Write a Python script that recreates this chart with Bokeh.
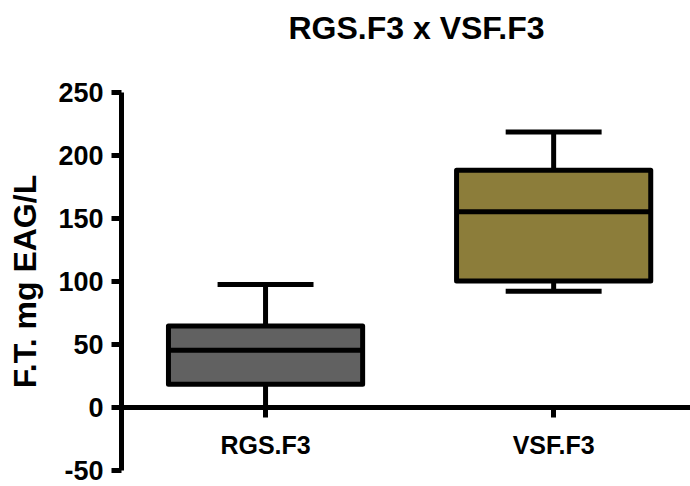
from bokeh.plotting import figure
from bokeh.models import Range1d, FixedTicker, ColumnDataSource, Title
from bokeh.embed import file_html
from bokeh.resources import INLINE

title_text = "RGS.F3 x VSF.F3"
y_label = "F.T. mg EAG/L"
categories = ["RGS.F3", "VSF.F3"]
lower_whisker = [0.0, 92.2]
q1 = [18.5, 100.4]
median = [45.5, 155.4]
q3 = [64.7, 188.3]
upper_whisker = [97.6, 218.7]
fill_colors = ["#616161", "#8c7d3a"]
y_ticks = [-50, 0, 50, 100, 150, 200, 250]

box_width = 0.674
cap_width = 0.333

xs = [i + 0.5 for i in range(len(categories))]
src = ColumnDataSource(dict(
    x=xs,
    left=[x - box_width / 2 for x in xs],
    right=[x + box_width / 2 for x in xs],
    cl=[x - cap_width / 2 for x in xs],
    cr=[x + cap_width / 2 for x in xs],
    lo=lower_whisker, q1=q1, med=median, q3=q3, hi=upper_whisker,
    color=fill_colors,
))

FONT = "Liberation Sans"
W, H = 690, 486
MB_LEFT, MB_TOP, MB_BOTTOM = 121, 92, 16

p = figure(width=W, height=H, output_backend="svg", toolbar_location=None,
           x_range=Range1d(0, 1.975), y_range=Range1d(-50, 250),
           min_border_left=MB_LEFT, min_border_right=0, min_border_top=MB_TOP,
           min_border_bottom=MB_BOTTOM, title=title_text)

p.grid.visible = False
p.outline_line_color = None
p.background_fill_color = "white"
p.border_fill_color = "white"

# whiskers
p.segment(x0="x", y0="q3", x1="x", y1="hi", source=src, line_color="black", line_width=5)
p.segment(x0="x", y0="lo", x1="x", y1="q1", source=src, line_color="black", line_width=5)
p.segment(x0="cl", y0="hi", x1="cr", y1="hi", source=src, line_color="black", line_width=5)
p.segment(x0="cl", y0="lo", x1="cr", y1="lo", source=src, line_color="black", line_width=5)
# boxes
p.quad(left="left", right="right", bottom="q1", top="q3", source=src,
       fill_color="color", line_color="black", line_width=5, line_join="round")
p.segment(x0="left", y0="med", x1="right", y1="med", source=src, line_color="black", line_width=5)

# spacer between frame and title (pushes the title to the top of the canvas)
p.add_layout(Title(text=" ", text_font_size="1px", standoff=44), "above")

# title
p.title.text_font = FONT
p.title.text_font_style = "bold"
p.title.text_font_size = "32px"
p.title.text_color = "black"
p.title.align = "left"
p.title.offset = 167
p.title.standoff = 0

# y axis
ya = p.yaxis[0]
ya.ticker = FixedTicker(ticks=y_ticks)
ya.major_label_overrides = {t: str(t) for t in y_ticks}
ya.axis_line_width = 5
ya.axis_line_color = "black"
ya.major_tick_line_width = 5
ya.major_tick_out = 10
ya.major_tick_in = 0
ya.minor_tick_line_color = None
ya.major_label_text_font = FONT
ya.major_label_text_font_style = "bold"
ya.major_label_text_font_size = "27px"
ya.major_label_text_color = "black"
ya.major_label_standoff = 8
ya.axis_label = y_label
ya.axis_label_text_font = FONT
ya.axis_label_text_font_style = "bold"
ya.axis_label_text_font_size = "32px"
ya.axis_label_text_color = "black"
ya.axis_label_standoff = 12

# x axis at y = 0
xa = p.xaxis[0]
xa.fixed_location = 0
xa.ticker = FixedTicker(ticks=xs)
xa.major_label_overrides = {x: c for x, c in zip(xs, categories)}
xa.axis_line_width = 5
xa.axis_line_color = "black"
xa.major_tick_line_width = 5
xa.major_tick_out = 10
xa.major_tick_in = 0
xa.minor_tick_line_color = None
xa.major_label_text_font = FONT
xa.major_label_text_font_style = "bold"
xa.major_label_text_font_size = "25px"
xa.major_label_text_color = "black"
xa.major_label_standoff = 13

open("out.html", "w").write(file_html(p, INLINE))
